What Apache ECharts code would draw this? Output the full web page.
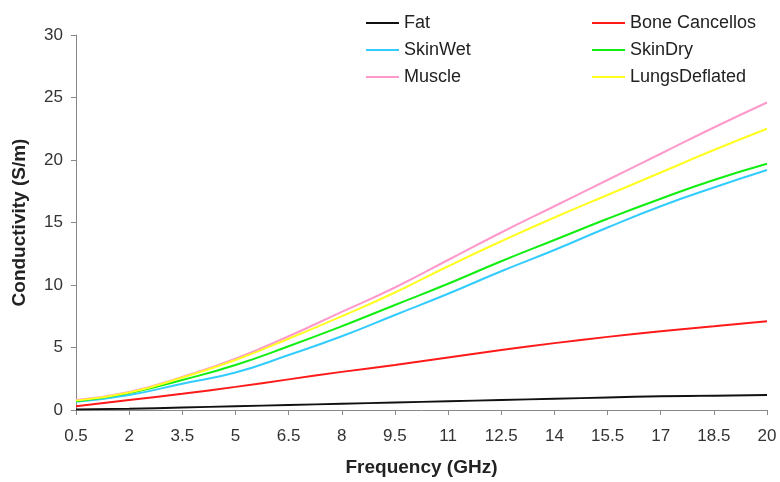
<!DOCTYPE html>
<html>
<head>
<meta charset="utf-8">
<script src="https://cdn.jsdelivr.net/npm/echarts@6/dist/echarts.min.js"></script>
<style>html,body{margin:0;padding:0;background:#fff;}#c{width:780px;height:482px;}</style>
</head>
<body>
<div id="c"></div>
<script>
const frequencies = ['0.5','2','3.5','5','6.5','8','9.5','11','12.5','14','15.5','17','18.5','20'];
const fat           = [0.05,0.1,0.2,0.3,0.4,0.5,0.6,0.7,0.8,0.9,1.0,1.1,1.15,1.2];
const boneCancellos = [0.3,0.8,1.3,1.85,2.45,3.05,3.6,4.2,4.8,5.35,5.85,6.3,6.7,7.1];
const skinWet       = [0.65,1.2,2.1,3.0,4.4,5.9,7.6,9.3,11.1,12.8,14.6,16.3,17.8,19.2];
const skinDry       = [0.7,1.35,2.4,3.6,5.1,6.7,8.4,10.1,11.9,13.6,15.3,16.9,18.4,19.7];
const muscle        = [0.8,1.45,2.65,4.1,5.9,7.85,9.8,12.0,14.2,16.3,18.4,20.5,22.6,24.6];
const lungsDeflated = [0.75,1.4,2.6,4.0,5.7,7.5,9.4,11.5,13.5,15.4,17.2,19.0,20.8,22.5];

const seriesDefs = [
  ['Fat', fat, '#111111'],
  ['Bone Cancellos', boneCancellos, '#ff1a1a'],
  ['SkinWet', skinWet, '#33ccff'],
  ['SkinDry', skinDry, '#11ee11'],
  ['Muscle', muscle, '#ff99cc'],
  ['LungsDeflated', lungsDeflated, '#ffff22']
];

const chart = echarts.init(document.getElementById('c'));
const font = 'Liberation Sans, Arial, sans-serif';
const legendCommon = {
  orient: 'vertical', top: 9, icon: 'rect', itemWidth: 33, itemHeight: 2, itemGap: 9,
  textStyle: { fontFamily: font, fontSize: 18, color: '#222' }
};
chart.setOption({
  animation: false,
  backgroundColor: '#fff',
  legend: [
    Object.assign({}, legendCommon, { left: 361, data: ['Fat', 'SkinWet', 'Muscle'] }),
    Object.assign({}, legendCommon, { left: 587, data: ['Bone Cancellos', 'SkinDry', 'LungsDeflated'] })
  ],
  grid: { left: 76, right: 13, top: 35, bottom: 69, containLabel: false },
  xAxis: {
    type: 'category', data: frequencies, boundaryGap: false,
    name: 'Frequency (GHz)', nameLocation: 'middle', nameGap: 48,
    nameTextStyle: { fontFamily: font, fontSize: 19, fontWeight: 'bold', color: '#222' },
    axisLine: { lineStyle: { color: '#888' } },
    axisTick: { length: 5, lineStyle: { color: '#888' } },
    axisLabel: { fontFamily: font, fontSize: 17, color: '#333', margin: 18 },
    splitLine: { show: false }
  },
  yAxis: {
    type: 'value', min: 0, max: 30, interval: 5,
    name: 'Conductivity (S/m)', nameLocation: 'middle', nameGap: 47,
    nameTextStyle: { fontFamily: font, fontSize: 19, fontWeight: 'bold', color: '#222' },
    axisLine: { show: true, lineStyle: { color: '#888' } },
    axisTick: { show: true, length: 5, lineStyle: { color: '#888' } },
    axisLabel: { fontFamily: font, fontSize: 17, color: '#333', margin: 13 },
    splitLine: { show: false }
  },
  series: seriesDefs.map(([name, data, color]) => ({
    name, type: 'line', data, smooth: true, symbol: 'none',
    lineStyle: { color, width: 2 }, itemStyle: { color }
  }))
});
</script>
</body>
</html>
